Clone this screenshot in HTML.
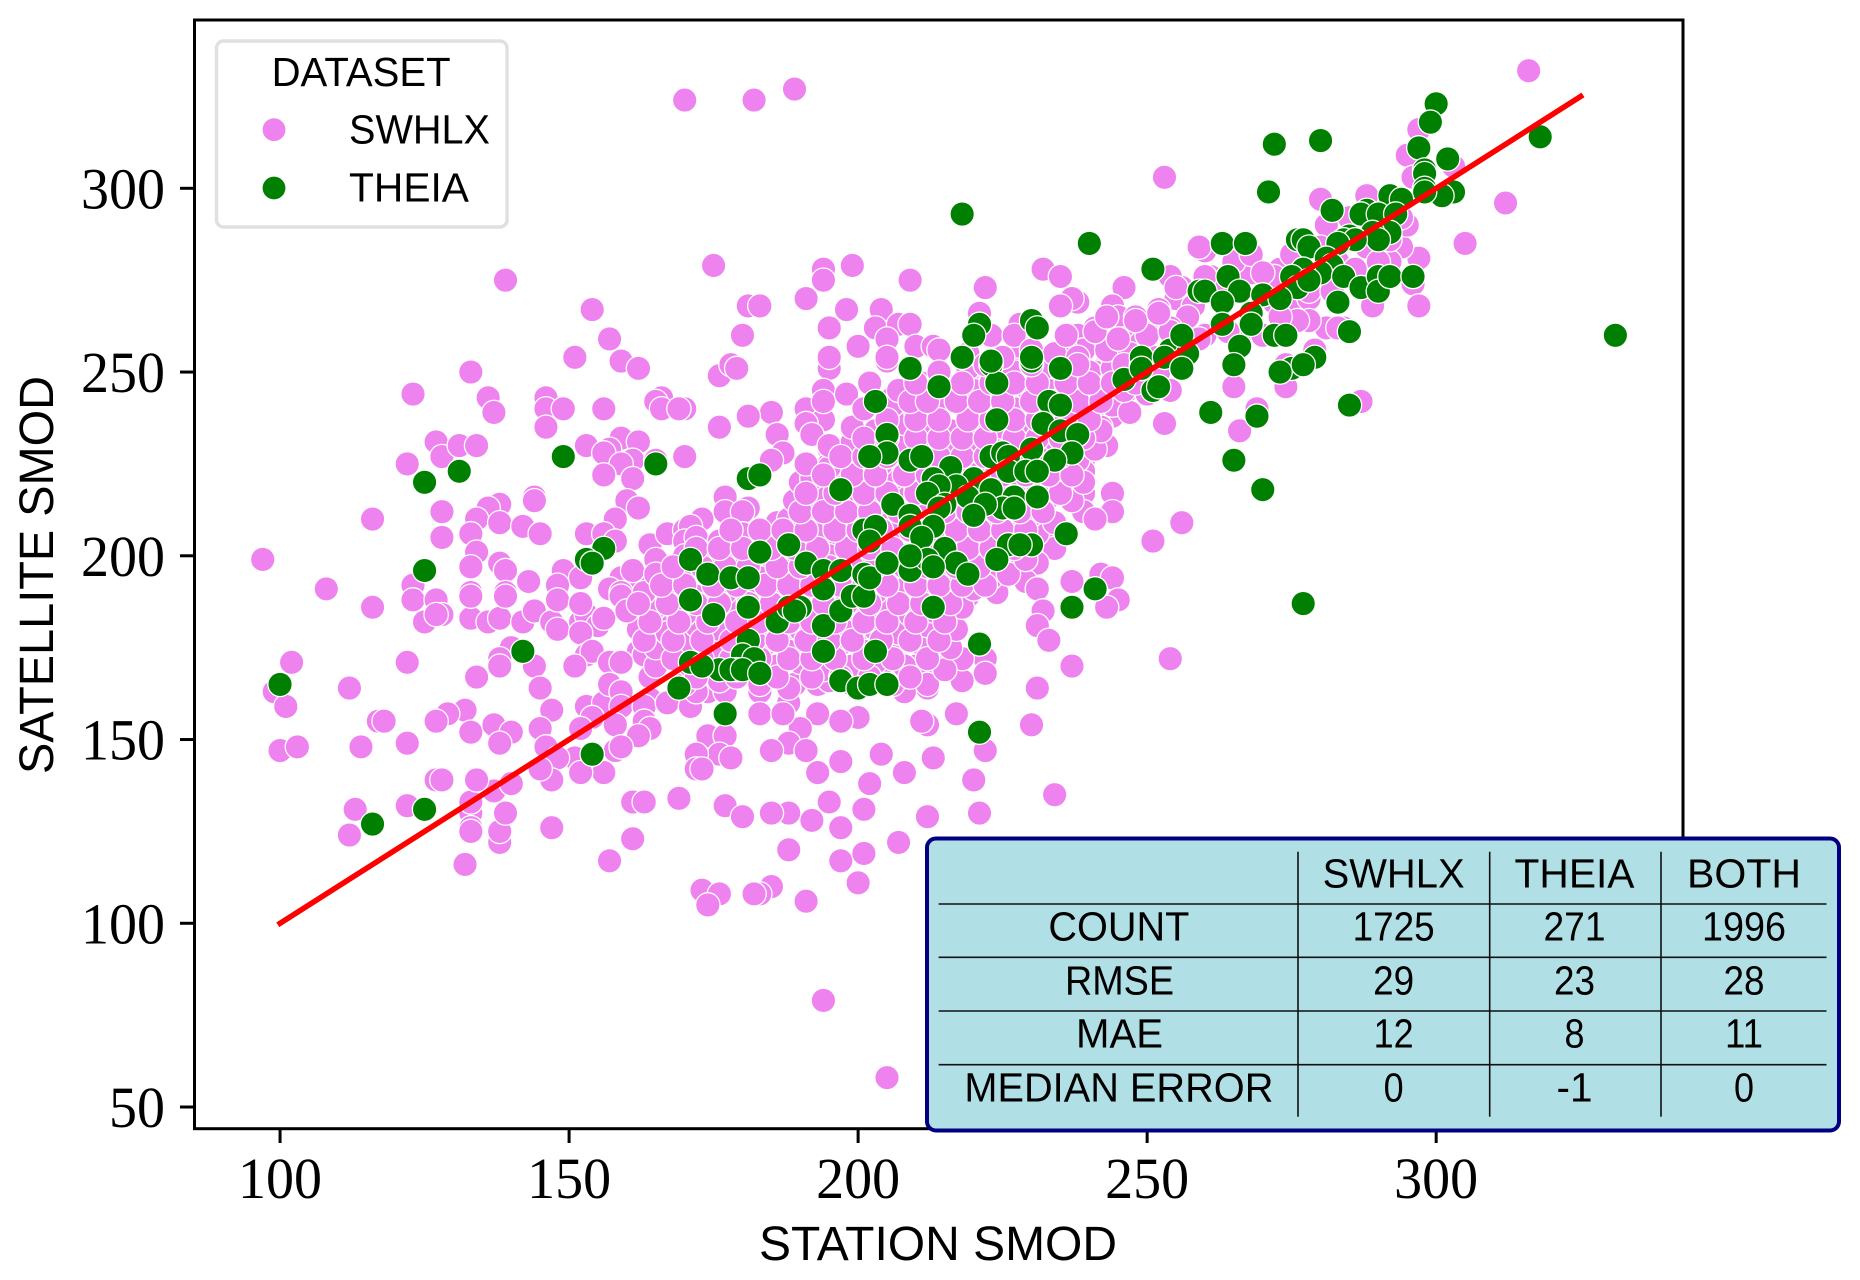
<!DOCTYPE html>
<html lang="en">
<head>
<meta charset="utf-8">
<title>Satellite vs Station SMOD</title>
<style>
html,body{margin:0;padding:0;background:#fff;}
svg{display:block;}
.sans{font-family:"Liberation Sans","DejaVu Sans",sans-serif;fill:#000;}
.serif{font-family:"Liberation Serif","DejaVu Serif",serif;fill:#000;}
</style>
</head>
<body>
<svg id="chart" xmlns="http://www.w3.org/2000/svg" width="1860" height="1280" viewBox="0 0 1860 1280">
<defs><clipPath id="plot-clip"><rect x="194.5" y="20" width="1488.5" height="1108.7"/></clipPath></defs>
<g id="swhlx-layer" clip-path="url(#plot-clip)"></g>
<g id="theia-layer" clip-path="url(#plot-clip)"></g>
<line id="fit-line" stroke="#ff0000" stroke-width="5.5" stroke-linecap="square" clip-path="url(#plot-clip)"/>
<g id="ticks"></g>
<rect x="194.5" y="20" width="1488.5" height="1108.7" fill="none" stroke="#000" stroke-width="3"/>
<text class="sans" x="938" y="1260" font-size="48" text-anchor="middle" textLength="358" lengthAdjust="spacingAndGlyphs">STATION SMOD</text>
<text class="sans" transform="translate(53,575) rotate(-90)" font-size="48" text-anchor="middle" textLength="398" lengthAdjust="spacingAndGlyphs">SATELLITE SMOD</text>

<g>
<rect x="216.5" y="41" width="290.5" height="186" rx="7" fill="#fff" fill-opacity="0.85" stroke="#e0e0e0" stroke-width="3.4"/>
<text class="sans" x="271.6" y="86" font-size="41" textLength="179" lengthAdjust="spacingAndGlyphs">DATASET</text>
<circle cx="274" cy="129.7" r="11.4" fill="#ee82ee"/>
<text class="sans" x="349" y="143.3" font-size="41" textLength="141" lengthAdjust="spacingAndGlyphs">SWHLX</text>
<circle cx="274" cy="188" r="11.4" fill="#008000"/>
<text class="sans" x="349" y="201.7" font-size="41" textLength="120" lengthAdjust="spacingAndGlyphs">THEIA</text>
</g>

<g>
<rect x="927" y="838.5" width="912" height="292" rx="9" fill="#b0e0e6" stroke="#000080" stroke-width="4"/>
<g stroke="#111" stroke-width="1.6">
<line x1="1298" y1="851.7" x2="1298" y2="1116.7"/>
<line x1="1489.7" y1="851.7" x2="1489.7" y2="1116.7"/>
<line x1="1661" y1="851.7" x2="1661" y2="1116.7"/>
<line x1="938.6" y1="904" x2="1826.5" y2="904"/>
<line x1="938.6" y1="957.3" x2="1826.5" y2="957.3"/>
<line x1="938.6" y1="1011" x2="1826.5" y2="1011"/>
<line x1="938.6" y1="1064.7" x2="1826.5" y2="1064.7"/>
</g>
<g class="sans" font-size="41" text-anchor="middle">
<text class="sans" x="1393.6" y="887.7" textLength="142" lengthAdjust="spacingAndGlyphs">SWHLX</text>
<text class="sans" x="1574.5" y="887.7" textLength="120" lengthAdjust="spacingAndGlyphs">THEIA</text>
<text class="sans" x="1744" y="887.7" textLength="114" lengthAdjust="spacingAndGlyphs">BOTH</text>
<text class="sans" x="1118.9" y="940.7" textLength="141" lengthAdjust="spacingAndGlyphs">COUNT</text>
<text class="sans" x="1393.6" y="940.7" textLength="82" lengthAdjust="spacingAndGlyphs">1725</text>
<text class="sans" x="1574.5" y="940.7" textLength="62" lengthAdjust="spacingAndGlyphs">271</text>
<text class="sans" x="1744" y="940.7" textLength="84" lengthAdjust="spacingAndGlyphs">1996</text>
<text class="sans" x="1119.5" y="994.3" textLength="109" lengthAdjust="spacingAndGlyphs">RMSE</text>
<text class="sans" x="1393.6" y="994.3" textLength="41" lengthAdjust="spacingAndGlyphs">29</text>
<text class="sans" x="1574.5" y="994.3" textLength="41" lengthAdjust="spacingAndGlyphs">23</text>
<text class="sans" x="1744" y="994.3" textLength="41" lengthAdjust="spacingAndGlyphs">28</text>
<text class="sans" x="1119.5" y="1047.7" textLength="87" lengthAdjust="spacingAndGlyphs">MAE</text>
<text class="sans" x="1393.6" y="1047.7" textLength="40" lengthAdjust="spacingAndGlyphs">12</text>
<text class="sans" x="1574.5" y="1047.7" textLength="20" lengthAdjust="spacingAndGlyphs">8</text>
<text class="sans" x="1744" y="1047.7" textLength="38" lengthAdjust="spacingAndGlyphs">11</text>
<text class="sans" x="1118.9" y="1101.7" textLength="309" lengthAdjust="spacingAndGlyphs">MEDIAN ERROR</text>
<text class="sans" x="1393.6" y="1101.7" textLength="20" lengthAdjust="spacingAndGlyphs">0</text>
<text class="sans" x="1574.5" y="1101.7" textLength="36" lengthAdjust="spacingAndGlyphs">-1</text>
<text class="sans" x="1744" y="1101.7" textLength="20" lengthAdjust="spacingAndGlyphs">0</text>
</g>
</g>
</svg>
<script>
const xTickValues = [100,150,200,250,300];
const yTickValues = [50,100,150,200,250,300];
const fitLineX = [100,325];
const fitLineY = [100,325];
const swhlxPoints = [
[170,324],[316,332],[312,296],[305,285],[297,268],[289,268],[296,274],[297,281],[294,284],[292,280],[295,290],[297,316],[295,309],[303,306],[296,303],[280,297],[281,290],[285,292],[259,284],[260,283],[261,276],[268,277],[273,278],[272,276],[257,265],[256,273],[260,260],[258,260],[273,265],[275,264],[278,264],[276,268],[278,270],[281,262],[284,262],[272,269],[270,260],[265,246],[274,246],[274,252],[279,256],[266,259],
[262,272],[255,270],[252,262],[258,268],[260,276],[265,280],[268,282],[270,277],[275,282],[277,276],[280,284],[283,280],[278,272],[282,272],[286,278],[288,284],[290,280],[292,286],[294,292],[291,295],[288,298],
[235,268],[238,269],[244,268],[245,265],[248,265],[252,267],[257,265],[254,262],[241,262],[236,260],[228,257],[246,259],[243,257],[249,258],[239,256],[234,255],[236,255],[237,253],[226,252],[243,252],[241,250],[228,249],[238,249],[230,246],[236,246],[234,248],[245,245],[243,245],[254,245],[242,243],[246,244],[244,241],[241,240],[244,238],[239,241],[226,243],[231,240],[227,236],[239,234],[242,235],[241,231],[243,230],[239,226],[237,220],[235,220],[239,223],[239,217],[244,217],[239,212],[244,212],[241,210],[232,210],[227,211],[234,203],[231,198],[226,197],[229,193],[231,191],[237,193],[242,194],[244,194],[245,188],[243,186],[232,185],[231,181],[233,177],[253,236],[266,234],[265,246],[269,240],[274,246],[287,242],[251,204],[256,209],[254,172],[297,268],[289,268],[281,262],[283,262],[278,264],[276,264],[273,265],[270,260],[264,261],[260,260],[259,259],
[178,252],[179,251],[176,249],[181,238],[185,239],[176,235],[186,233],[187,228],[185,226],[177,216],[181,213],[180,212],[177,212],[173,210],[186,209],[180,204],[178,203],[182,204],[191,240],[194,237],[191,236],[192,233],[195,229],[195,225],[195,254],[195,251],[194,245],[194,242],[198,244],[202,247],[206,243],[203,241],[199,234],[199,230],[205,253],[211,247],[206,239],[214,240],[212,235],[208,234],[215,234],[216,230],[218,241],[220,236],[219,248],[219,253],[227,236],[224,242],[230,246],[241,250],[239,244],[243,244],[241,231],[243,230],[237,220],[239,212],[244,217],[244,212],[241,210],[232,210],[234,202],[192,220],[190,216],[189,212],[195,209],[192,208],[200,214],[197,213],[207,223],[205,218],[208,216],[203,222],[210,220],
[231,198],[229,193],[231,191],[237,193],[242,195],[244,194],[245,188],[243,186],[232,185],[231,181],[233,177],[237,170],[231,164],[251,204],[256,209],[253,236],[254,172],[222,172],[222,168],[216,171],[218,166],[218,172],[209,179],[213,181],[215,184],[208,186],[211,167],[210,170],[212,164],[208,163],[205,169],[200,178],[197,179],[188,172],[190,178],[192,169],[189,165],[193,165],[183,163],[177,163],[221,201],[222,194],[219,189],[226,197],[216,192],[213,194],[206,193],[203,185],[187,177],[184,193],[176,177],[174,188],[176,181],[182,182],[185,187],[192,187],[187,196],[192,202],[195,202],[197,203],[199,205],[204,212],[201,214],
[230,154],[217,157],[212,154],[211,155],[234,135],[222,147],[220,139],[221,130],[213,145],[208,141],[204,146],[197,144],[202,138],[201,131],[212,129],[207,122],[193,141],[195,133],[192,128],[188,130],[185,130],[180,129],[177,132],[197,126],[188,120],[197,117],[201,119],[200,111],[185,110],[183,108],[191,106],[176,108],[173,109],[174,105],[194,79],[205,58],[200,156],[197,155],[193,157],[190,153],[188,149],[185,147],[191,147],[188,160],[183,157],[187,157],[177,151],[178,145],[176,146],[173,142],
[139,275],[175,279],[154,267],[157,259],[151,254],[159,253],[162,251],[133,250],[123,244],[136,243],[137,239],[146,243],[146,240],[149,240],[146,235],[156,240],[166,243],[165,242],[166,240],[170,240],[169,240],[176,235],[176,249],[178,252],[179,251],[180,260],[181,268],[181,238],[127,231],[128,227],[131,230],[134,230],[122,225],[153,230],[159,232],[162,231],[157,229],[156,228],[161,226],[159,225],[156,222],[161,221],[165,226],[170,227],[160,215],[162,213],[158,210],[153,206],[156,206],[158,204],[164,203],[167,206],[173,210],[170,207],[171,208],[170,204],[177,216],[181,213],[177,212],[180,212],[178,203],[181,204],[144,216],[144,215],[138,214],[136,213],[134,210],[138,209],[142,208],[145,206],[133,206],[128,212],[128,205],[116,210],[97,199],[108,191],[134,201],[133,197],[138,198],[139,196],[143,193],[149,196],[152,194],[148,192],[133,190],[139,190],[123,192],[123,188],[127,188],[116,186],[165,199],[159,194],[162,193],[161,196],[167,193],[165,192],[157,191],[159,190],[174,197],[179,199],[182,197],
[125,182],[128,184],[127,184],[133,183],[133,189],[136,182],[138,183],[139,189],[142,182],[144,185],[147,182],[148,188],[148,180],[152,182],[153,184],[152,187],[155,181],[156,183],[152,179],[159,189],[163,181],[162,182],[165,182],[167,179],[169,187],[171,185],[169,179],[172,179],[162,174],[163,173],[169,174],[153,173],[154,174],[151,170],[157,171],[159,171],[140,175],[138,172],[138,170],[144,170],[134,167],[145,164],[122,171],[102,171],[112,164],[99,163],[101,159],[117,155],[118,155],[132,158],[129,157],[127,155],[133,152],[137,154],[140,152],[138,149],[147,158],[145,153],[146,148],[153,159],[156,160],[154,156],[152,153],[157,165],[159,163],[159,159],[158,154],[164,167],[164,161],[163,159],[163,155],[164,153],[162,151],[158,147],[159,148],[151,145],[148,145],[156,141],[152,141],[147,139],[145,142],[167,160],[171,159],[174,163],[177,163],[172,163],[174,151],[177,151],[176,146],[178,145],[172,146],[172,142],[173,142],[161,133],[163,133],[169,134],[177,132],[180,129],[147,126],[161,123],[157,117],[173,109],[176,108],[174,105],[132,116],[138,122],[138,125],[139,130],[133,130],[133,133],[133,126],[133,125],[137,136],[140,138],[134,139],[127,139],[128,139],[122,132],[113,131],[112,124],[100,147],[103,148],[114,148],[122,149],[182,108],
[182,324],[189,327],[194,278],[194,275],[199,279],[209,275],[191,270],[183,268],[180,260],[198,267],[195,262],[195,254],[200,257],[204,267],[203,262],[207,263],[209,263],[205,259],[210,257],[213,257],[214,256],[205,254],[222,273],[221,266],[223,260],[232,278],[235,276],[237,270],[235,268],[253,303],[246,273],[244,268],[245,265],[248,265],[241,262],[236,260],[238,260],[246,259],[243,257],[249,258],[239,256],[228,257],[228,263],[227,260],[234,255],[236,256],[237,254],[254,276],[255,273],[252,267],[257,265],[254,262],[259,284],
[170,165],[176,166],[183,165],[188,164],[195,166],[199,165],[206,165],[212,165],
[165,170],[171,170],[176,171],[180,169],[186,170],[190,171],[194,169],[199,170],[203,171],[208,170],[215,169],
[165,175],[170,176],[175,174],[179,175],[184,176],[188,174],[193,175],[197,176],[201,174],[206,175],[211,176],[216,175],
[162,180],[167,179],[172,181],[176,180],[181,179],[185,181],[190,180],[194,179],[198,181],[203,180],[207,179],[212,181],[217,180],
[160,185],[165,186],[170,184],[174,185],[178,186],[183,184],[187,185],[191,186],[196,184],[200,185],[204,186],[209,184],[213,185],[218,186],
[163,190],[168,191],[172,189],[177,190],[181,191],[186,189],[190,190],[194,191],[199,189],[203,190],[207,191],[212,189],[216,190],[220,191],[224,190],
[165,195],[170,194],[175,196],[179,195],[183,194],[188,196],[192,195],[197,194],[201,196],[205,195],[210,194],[214,196],[219,195],[223,194],[226,195],
[170,200],[174,201],[178,199],[182,200],[187,201],[191,199],[195,200],[200,201],[204,199],[208,200],[213,201],[217,199],[221,200],[225,201],[229,199],
[172,205],[176,204],[180,206],[185,205],[189,204],[193,206],[198,205],[202,204],[206,206],[211,205],[215,204],[219,206],[223,205],[227,204],[231,206],
[188,210],[191,211],[196,209],[200,210],[204,211],[209,209],[213,210],[217,211],[221,209],[226,210],[230,211],[234,209],
[189,215],[192,214],[194,216],[199,215],[203,214],[207,216],[212,215],[216,214],[220,216],[224,215],[229,214],[233,216],[237,215],
[190,220],[192,221],[197,219],[201,220],[206,221],[210,219],[214,220],[218,221],[223,219],[227,220],[231,221],[235,219],[239,220],
[191,225],[195,224],[200,226],[204,225],[208,224],[213,226],[217,225],[221,224],[225,226],[230,225],[234,224],[238,226],
[195,230],[199,231],[203,229],[207,230],[212,231],[216,229],[220,230],[224,231],[229,229],[233,230],[237,231],[241,229],
[199,235],[203,234],[208,236],[212,235],[216,234],[221,236],[225,235],[229,234],[233,236],[238,235],[242,234],
[201,240],[206,241],[210,239],[214,240],[219,241],[223,239],[227,240],[232,241],[236,239],[240,240],[244,241],[247,239],
[207,245],[212,244],[216,246],[220,245],[225,244],[229,246],[233,245],[238,244],[242,246],[246,245],[250,244],
[214,250],[219,251],[223,249],[227,250],[232,251],[236,249],[240,250],[244,251],[248,249],[252,250],
[219,255],[225,254],[230,256],[234,255],[238,254],[243,256],[247,255],[251,254],[255,256],
[236,260],[241,261],[245,259],[250,260],[254,261],
[243,265],[248,264],[252,266],
[172,167],[179,167],[186,167],[192,167],[197,167],[202,167],[209,167],
[168,172],[173,172],[178,172],[183,172],[188,172],[192,172],[196,172],[201,172],[206,172],[212,172],
[163,177],[168,177],[173,177],[178,177],[182,177],[186,177],[191,177],[195,177],[199,177],[204,177],[209,177],[214,177],
[164,182],[169,182],[174,182],[179,182],[183,182],[188,182],[192,182],[196,182],[201,182],[205,182],[210,182],[215,182],
[162,187],[167,187],[172,187],[176,187],[181,187],[185,187],[189,187],[194,187],[198,187],[202,187],[207,187],[211,187],[216,187],
[166,192],[170,192],[175,192],[179,192],[184,192],[188,192],[192,192],[197,192],[201,192],[205,192],[210,192],[214,192],[218,192],[222,192],
[168,197],[173,197],[177,197],[181,197],[186,197],[190,197],[195,197],[199,197],[203,197],[208,197],[212,197],[217,197],[221,197],
[172,202],[176,202],[180,202],[185,202],[189,202],[193,202],[198,202],[202,202],[206,202],[211,202],[215,202],[219,202],[223,202],[227,202],
[178,207],[183,207],[187,207],[191,207],[196,207],[200,207],[204,207],[209,207],[213,207],[217,207],[221,207],[225,207],[229,207],
[190,212],[194,212],[198,212],[202,212],[207,212],[211,212],[215,212],[219,212],[224,212],[228,212],[232,212],
[191,217],[196,217],[201,217],[205,217],[210,217],[214,217],[218,217],[222,217],[227,217],[231,217],[235,217],
[194,222],[199,222],[203,222],[208,222],[212,222],[216,222],[220,222],[225,222],[229,222],[233,222],[237,222],
[197,227],[201,227],[205,227],[210,227],[214,227],[218,227],[222,227],[227,227],[231,227],[235,227],
[201,232],[205,232],[210,232],[214,232],[218,232],[222,232],[227,232],[231,232],[235,232],[239,232],
[205,237],[210,237],[214,237],[219,237],[223,237],[227,237],[231,237],[236,237],[240,237],
[209,242],[212,242],[217,242],[221,242],[225,242],[230,242],[234,242],[238,242],[242,242],
[210,247],[218,247],[223,247],[227,247],[231,247],[236,247],[240,247],[244,247],[248,247],
[222,252],[230,252],[238,252],[246,252]
];
const theiaPoints = [
[100,165],[116,127],[125,131],[125,220],[131,223],[125,196],[149,227],[142,174],[156,202],[153,199],[154,198],[165,225],[154,146],[169,164],[171,188],[171,199],[174,195],[175,184],[171,171],[178,194],[177,157],[181,221],[183,222],[181,194],[181,186],[183,201],[181,177],[180,173],[182,172],[179,169],[176,169],[178,169],[180,169],[183,168],[173,170],
[188,203],[186,182],[188,186],[190,186],[189,185],[191,198],[194,196],[194,191],[194,181],[194,174],[197,166],[200,164],[202,165],[205,165],[203,174],[197,218],[197,196],[197,185],[199,189],[201,189],[201,195],[202,194],[201,207],[203,208],[202,204],[205,198],
[218,254],[223,252],[224,247],[230,253],[235,251],[246,248],[249,252],[253,254],[256,251],[257,255],[251,245],[209,251],[214,246],[203,242],[224,237],[233,242],[235,241],[232,236],[235,234],[238,233],[205,233],[205,228],[202,227],[209,226],[211,227],[223,227],[225,228],[226,227],[230,229],[237,228],[234,226],[226,223],[229,223],[231,223],[216,224],[213,221],[220,221],[217,219],[214,219],[212,217],[219,216],[223,218],[227,216],[231,216],[225,213],[227,213],[222,214],[215,214],[214,213],[220,211],[206,214],[209,211],[213,208],[209,208],[211,205],[215,202],[226,203],[230,203],[228,203],[236,206],[224,199],[217,198],[219,195],[209,196],[212,199],[213,197],[209,200],[221,176],[241,191],[237,186],[221,152],[213,186],
[218,293],[240,285],[251,278],[221,263],[220,260],[230,264],[231,262],[218,254],[223,253],[230,254],[256,259],[254,256],[249,254],[259,272],
[249,251],[253,254],[265,226],[270,218],[261,239],[269,238],[277,187],[285,241],[252,246],
[300,323],[299,318],[297,311],[302,308],[298,305],[298,304],[298,300],[303,299],[301,298],[298,299],[318,314],[331,260],[272,312],[280,313],[271,299],[292,298],[294,297],[282,294],[288,294],[287,293],[290,293],[293,293],[292,288],[289,288],[290,286],[285,287],[284,286],[286,286],[283,285],[276,286],[277,286],[278,284],[281,281],[282,279],[280,277],[277,278],[275,276],[276,273],[278,275],[284,276],[287,273],[290,276],[290,272],[292,276],[296,276],[283,269],[285,261],[263,285],[267,285],[264,276],[260,272],[266,272],[263,269],[270,271],[273,270],[268,266],[268,263],[263,263],[266,257],[265,252],[272,260],[274,260],[279,254],[275,251],[273,250],[277,252],[257,255],[256,260],[256,251]
];
const xDomain = [85.2,342.7];
const yDomain = [44.1,345.8];
const NS = 'http://www.w3.org/2000/svg';
function xAxis(v){ return 194.5 + (v - xDomain[0]) / (xDomain[1] - xDomain[0]) * 1488.5; }
function yAxis(v){ return 1128.7 - (v - yDomain[0]) / (yDomain[1] - yDomain[0]) * 1108.7; }
function drawPoints(layerId, points, color, name){
  const layer = document.getElementById(layerId);
  for (const p of points){
    const c = document.createElementNS(NS,'circle');
    c.setAttribute('cx', xAxis(p[0]).toFixed(2));
    c.setAttribute('cy', yAxis(p[1]).toFixed(2));
    c.setAttribute('r', '12.2');
    c.setAttribute('fill', color);
    c.setAttribute('stroke', '#fff');
    c.setAttribute('stroke-width', '1.3');
    
    
    layer.appendChild(c);
  }
}
drawPoints('swhlx-layer', swhlxPoints, '#ee82ee', 'swhlx-point');
drawPoints('theia-layer', theiaPoints, '#008000', 'theia-point');
const fit = document.getElementById('fit-line');
fit.setAttribute('x1', xAxis(fitLineX[0]));
fit.setAttribute('y1', yAxis(fitLineY[0]));
fit.setAttribute('x2', xAxis(fitLineX[1]));
fit.setAttribute('y2', yAxis(fitLineY[1]));
const tickGroup = document.getElementById('ticks');
function addTickLabel(x, y, anchor, label, name){
  const t = document.createElementNS(NS,'text');
  t.setAttribute('x', x);
  t.setAttribute('y', y);
  t.setAttribute('class', 'serif');
  t.setAttribute('font-size', '58');
  t.setAttribute('text-anchor', anchor);
  t.setAttribute('textLength', String(label).length === 3 ? '84' : '56');
  t.setAttribute('lengthAdjust', 'spacingAndGlyphs');
  t.textContent = label;
  
  
  tickGroup.appendChild(t);
}
function addTickMark(x1, y1, x2, y2, name){
  const l = document.createElementNS(NS,'line');
  l.setAttribute('x1', x1);
  l.setAttribute('y1', y1);
  l.setAttribute('x2', x2);
  l.setAttribute('y2', y2);
  l.setAttribute('stroke', '#000');
  l.setAttribute('stroke-width', '3');
  
  
  tickGroup.appendChild(l);
}
for (const v of xTickValues){
  addTickMark(xAxis(v), 1128.7, xAxis(v), 1143, 'x-tick');
  addTickLabel(xAxis(v), 1198, 'middle', v, 'x-tick-label');
}
for (const v of yTickValues){
  addTickMark(180, yAxis(v), 194.5, yAxis(v), 'y-tick');
  addTickLabel(165, yAxis(v) + 20, 'end', v, 'y-tick-label');
}
</script>
</body>
</html>
